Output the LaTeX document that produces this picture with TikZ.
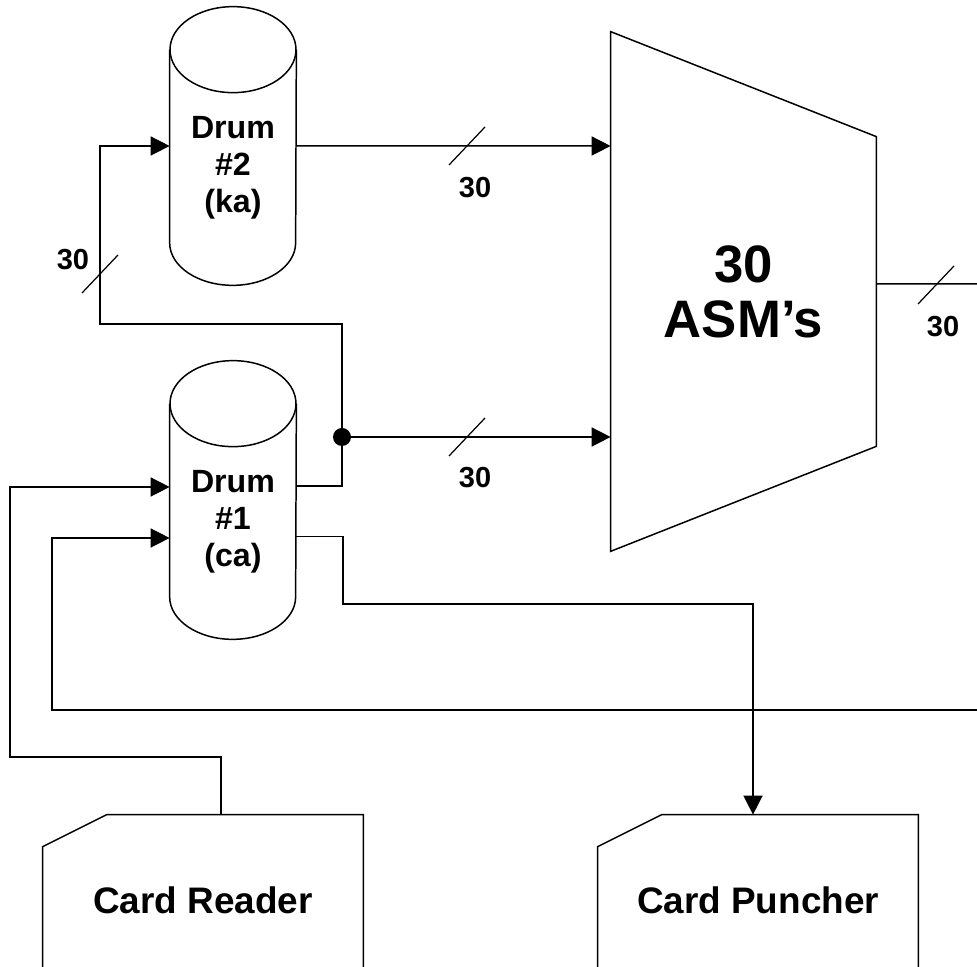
\documentclass[tikz,border=0pt]{standalone}
\usepackage{fontspec}
\setmainfont{Liberation Sans}
\usetikzlibrary{arrows.meta}
\tikzset{
  wire/.style={line width=0.85pt, line join=miter},
  feed/.style={wire, -{Triangle[length=3.8mm,width=3.8mm]}},
  tick/.style={line width=0.7pt},
  drum/.style={
    minimum width=2.52cm,
    minimum height=4.7cm,
    inner sep=0pt,
    align=center,
    font=\fontsize{18.3}{21}\selectfont\bfseries
  },
  unit/.style={
    minimum width=5.3cm,
    minimum height=10.38cm,
    inner sep=0pt,
    align=center,
    font=\fontsize{30}{31.3}\selectfont\bfseries
  },
  card/.style={
    minimum width=6.4cm,
    minimum height=3.4cm,
    inner sep=0pt,
    font=\fontsize{21}{25}\selectfont\bfseries
  },
  buslabel/.style={font=\fontsize{16.5}{19}\selectfont\bfseries, inner sep=0pt},
  joint/.style={circle, fill, inner sep=0pt, minimum size=0.36cm}
}
\newcommand{\drumoutline}[1]{%
  \draw[wire] (#1.north west) -- ([yshift=0.85cm]#1.south west)
    arc[start angle=180, end angle=360, x radius=1.26cm, y radius=0.85cm]
    -- (#1.north east);
  \draw[wire] (#1.north) ellipse[x radius=1.26cm, y radius=0.86cm];
}
\newcommand{\asmoutline}[1]{%
  \draw[wire] (#1.north west) -- ([yshift=-2.1cm]#1.north east)
    -- ([yshift=2.1cm]#1.south east) -- (#1.south west) -- cycle;
}
\newcommand{\cardoutline}[1]{%
  \draw[wire] ([yshift=-0.64cm]#1.north west) -- ([xshift=1.28cm]#1.north west)
    -- (#1.north east) -- (#1.south east) -- (#1.south west) -- cycle;
}
\begin{document}
\begin{tikzpicture}[x=1cm,y=1cm]
\clip (0,0) rectangle (19.54,19.34);

% drums
\node[drum] (drum2) at (4.66,15.99) {Drum\\\#2\\(ka)};
\node[drum] (drum1) at (4.66,8.91) {Drum\\\#1\\(ca)};
\drumoutline{drum2}
\drumoutline{drum1}

% arithmetic units
\node[unit] (asm) at (14.87,13.51) {30\\ASM’s};
\asmoutline{asm}

% card equipment
\node[card] (reader) at (4.06,1.34) {Card Reader};
\node[card] (punch) at (15.16,1.34) {Card Puncher};
\cardoutline{reader}
\cardoutline{punch}

% drum 1 out, split to ASM's and back to drum 2
\node[joint] (dot) at (6.84,10.6) {};
\coordinate (fb) at (2.0,12.86);
\draw[wire] ([yshift=0.71cm]drum1.east) -| (dot);
\draw[feed] (dot) -- (dot -| asm.west);
\draw[feed] (dot) |- (fb) |- ([yshift=0.43cm]drum2.west);
\draw[feed] ([yshift=0.43cm]drum2.east) -- ([yshift=2.91cm]asm.west);

% results go round to drum 1
\coordinate (outr) at (19.7,13.66);
\coordinate (back) at (19.7,5.14);
\coordinate (rb) at (1.04,5.14);
\draw[wire] ([yshift=0.15cm]asm.east) -- (outr);
\draw[feed] (back) -- (rb) |- ([yshift=-0.33cm]drum1.west);

% reader in, puncher out
\coordinate (ra) at (0.2,4.2);
\coordinate (pa) at (6.86,7.26);
\draw[feed] ([xshift=0.36cm]reader.north) |- (ra) |- ([yshift=0.69cm]drum1.west);
\draw[feed] ([yshift=-0.3cm]drum1.east) -| (pa) -| ([xshift=-0.1cm]punch.north);

% bus widths
\foreach \x/\y in {9.34/16.42, 9.34/10.6, 18.72/13.64, 2.0/13.86}
  \draw[tick] (\x,\y) +(-0.36,-0.38) -- +(0.36,0.38);
\node[buslabel] (w2) at (9.5,15.58) {30};
\node[buslabel] (w1) at (9.5,9.78) {30};
\node[buslabel] (wout) at (18.86,12.8) {30};
\node[buslabel] (wfb) at (1.46,14.14) {30};
\end{tikzpicture}
\end{document}
